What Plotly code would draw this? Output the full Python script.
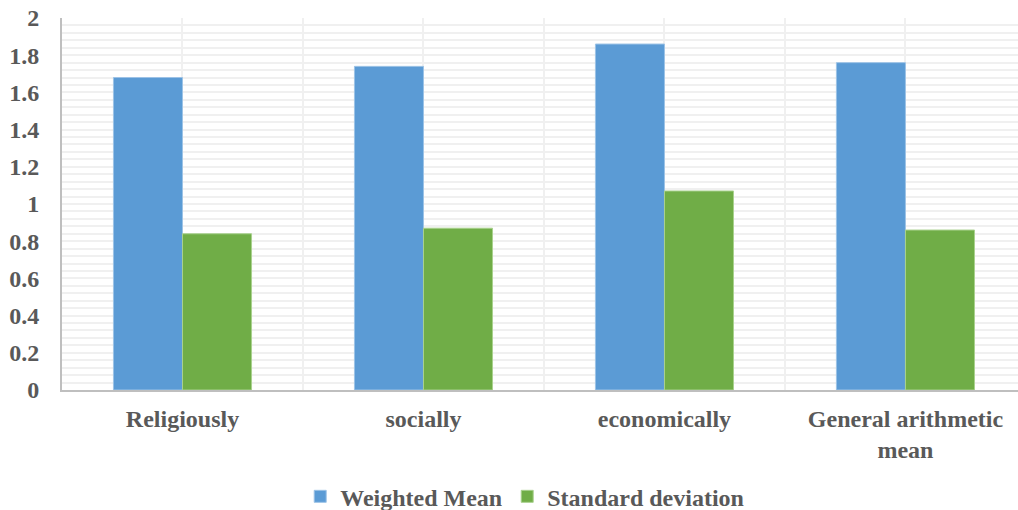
import plotly.graph_objects as go

categories = ["Religiously", "socially", "economically", "General arithmetic<br>mean"]
weighted_mean = [1.68, 1.74, 1.86, 1.76]
standard_deviation = [0.84, 0.87, 1.07, 0.86]
series_names = ["Weighted Mean", "Standard deviation"]

positions = list(range(len(categories)))
font_family = "Liberation Serif"
text_color = "#595959"
grid_color = "#F0F0F0"

fig = go.Figure()
fig.add_trace(go.Bar(
    x=positions, y=weighted_mean, name=series_names[0],
    marker=dict(color="#5B9BD5", line=dict(color="#9DC3E6", width=1)),
))
fig.add_trace(go.Bar(
    x=positions, y=standard_deviation, name=series_names[1],
    marker=dict(color="#70AD47", line=dict(color="#A9D18E", width=1)),
))

fig.update_layout(
    width=1018, height=510,
    margin=dict(l=62, r=0, t=18, b=120, autoexpand=False),
    plot_bgcolor="white", paper_bgcolor="white",
    barmode="group", bargap=0.427, bargroupgap=0,
    font=dict(family=font_family, color=text_color, size=24),
    legend=dict(
        orientation="h", x=0.484, xanchor="center",
        yref="container", y=0.026, yanchor="middle",
        font=dict(family=font_family, size=24, color=text_color, weight="bold"),
        itemwidth=30, traceorder="normal",
    ),
    showlegend=True,
)

fig.update_xaxes(
    range=[-0.5, 3.467], automargin=False,
    tickmode="array", tickvals=positions, ticktext=[f"<b>{c}</b>" for c in categories],
    tickfont=dict(family=font_family, size=24, color=text_color),
    showgrid=True, gridcolor=grid_color, gridwidth=2,
    minor=dict(tickmode="array", tickvals=[p + 0.5 for p in positions] + [-0.5],
               showgrid=True, gridcolor=grid_color, gridwidth=2, ticks=""),
    showline=True, linecolor="#BFBFBF", linewidth=2,
    ticks="", ticklabelstandoff=6, zeroline=False, ticklabeloverflow="allow",
)
fig.update_yaxes(
    range=[0, 2], dtick=0.2, automargin=False,
    tickfont=dict(family=font_family, size=24, color=text_color, weight="bold"),
    showgrid=True, gridcolor=grid_color, gridwidth=2,
    minor=dict(dtick=0.04, showgrid=True, gridcolor=grid_color, gridwidth=2, ticks=""),
    showline=True, linecolor="#BFBFBF", linewidth=2,
    ticks="", ticklabelstandoff=16, zeroline=False, ticklabeloverflow="allow",
)

fig.write_html(
    "out.html",
    config={"displayModeBar": False},
    post_script="document.body.style.margin='0';document.body.style.overflow='hidden';",
)
